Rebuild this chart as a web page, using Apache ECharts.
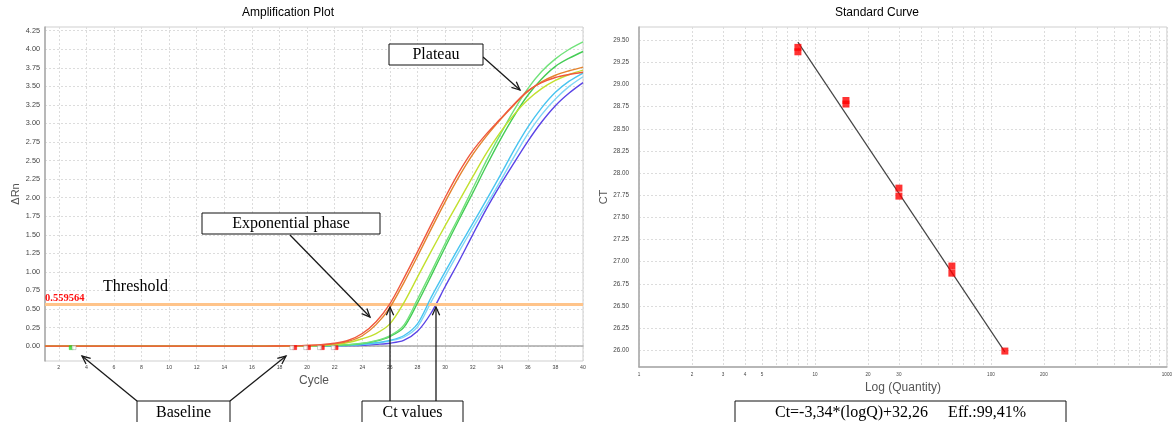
<!DOCTYPE html>
<html><head><meta charset="utf-8">
<script src="https://cdn.jsdelivr.net/npm/echarts@6/dist/echarts.min.js"></script>
<style>html,body{margin:0;padding:0;background:#fff}#c{width:1175px;height:422px}</style>
</head><body><div id="c"></div>
<script>
// ---------- Amplification plot data ----------
const cycles = [1,2,3,4,5,6,7,8,9,10,11,12,13,14,15,16,17,18,19,20,21,22,23,24,25,26,27,28,29,30,31,32,33,34,35,36,37,38,39,40];
const curveRed    = [0,0,0,0,0,0,0,0,0,0,0,0,0,0,0,0,0,0.002,0.005,0.01,0.02,0.04,0.08,0.17,0.33,0.57,0.91,1.27,1.64,2.00,2.34,2.63,2.86,3.06,3.26,3.44,3.55,3.62,3.66,3.69];
const curveOrange = [0,0,0,0,0,0,0,0,0,0,0,0,0,0,0,0,0,0.002,0.004,0.008,0.016,0.032,0.065,0.14,0.29,0.52,0.85,1.21,1.58,1.94,2.28,2.58,2.83,3.05,3.25,3.43,3.56,3.65,3.71,3.76];
const curveYellow = [0,0,0,0,0,0,0,0,0,0,0,0,0,0,0,0,0,0,0.002,0.005,0.01,0.02,0.05,0.10,0.17,0.30,0.58,0.93,1.28,1.62,1.95,2.28,2.60,2.88,3.12,3.32,3.47,3.58,3.66,3.72];
const curveGreen1 = [0,0,0,0,0,0,0,0,0,0,0,0,0,0,0,0,0,0,0.001,0.003,0.006,0.012,0.02,0.04,0.075,0.14,0.28,0.63,1.00,1.38,1.74,2.12,2.50,2.85,3.18,3.47,3.70,3.87,4.00,4.10];
const curveGreen2 = [0,0,0,0,0,0,0,0,0,0,0,0,0,0,0,0,0,0,0.001,0.003,0.005,0.01,0.018,0.036,0.068,0.13,0.25,0.58,0.95,1.33,1.70,2.06,2.43,2.78,3.10,3.38,3.60,3.77,3.88,3.97];
const curveCyan1  = [0,0,0,0,0,0,0,0,0,0,0,0,0,0,0,0,0,0,0,0.001,0.003,0.006,0.012,0.025,0.045,0.077,0.14,0.30,0.66,1.00,1.33,1.65,1.97,2.30,2.64,2.95,3.21,3.42,3.57,3.68];
const curveCyan2  = [0,0,0,0,0,0,0,0,0,0,0,0,0,0,0,0,0,0,0,0.001,0.002,0.005,0.01,0.02,0.04,0.07,0.12,0.26,0.60,0.94,1.27,1.59,1.90,2.22,2.55,2.86,3.12,3.33,3.50,3.63];
const curveViolet = [0,0,0,0,0,0,0,0,0,0,0,0,0,0,0,0,0,0,0,0.001,0.002,0.004,0.007,0.012,0.025,0.04,0.077,0.20,0.45,0.80,1.14,1.50,1.85,2.17,2.47,2.76,3.02,3.24,3.41,3.55];
const thresholdValue = 0.559564;
const baselineStartCycle = [2.9];
const baselineStartEdge = [3.1];
const baselineEndCycle = [19.1, 20.1, 21.1, 22.1];
const baselineEndEdge = [18.9, 19.9, 20.9, 21.9];
const baselineMarkY = -0.02;
const ampXTicks = [2,4,6,8,10,12,14,16,18,20,22,24,26,28,30,32,34,36,38,40];
const ampYTicks = [0,0.25,0.5,0.75,1,1.25,1.5,1.75,2,2.25,2.5,2.75,3,3.25,3.5,3.75,4,4.25];

// ---------- Standard curve data ----------
const stdQuantity = [8, 8, 15, 15, 30, 30, 60, 60, 120];
const stdCt = [29.42, 29.37, 28.82, 28.78, 27.83, 27.74, 26.95, 26.87, 25.99];
const fitQuantity = [8, 120];
const fitCt = [29.48, 25.98];
const stdXLabels = [1,2,3,4,5,10,20,30,100,200,1000];
const stdXGrid = [1,2,3,4,5,6,7,8,9,10,20,30,40,50,60,70,80,90,100,200,300,400,500,600,700,800,900,1000];
const stdYTicks = [26,26.25,26.5,26.75,27,27.25,27.5,27.75,28,28.25,28.5,28.75,29,29.25,29.5];

const lg = v => Math.log10(v);
const pairs = (xs, ys) => xs.map((x, i) => [x, ys[i]]);

const chart = echarts.init(document.getElementById('c'), null, {renderer: 'canvas'});

const curves = [
  {d: curveViolet, c: '#5a44e6'},
  {d: curveCyan2, c: '#7fd6f6'},
  {d: curveCyan1, c: '#48c4f0'},
  {d: curveGreen2, c: '#44cc55'},
  {d: curveGreen1, c: '#70e27a'},
  {d: curveYellow, c: '#c2e02e'},
  {d: curveOrange, c: '#e4832e'},
  {d: curveRed, c: '#f0583e'}
];

const serif = 'Liberation Serif';
const sans = 'Liberation Sans';

const series = curves.map((cv, i) => ({
  type: 'line', xAxisIndex: 0, yAxisIndex: 0,
  data: pairs(cycles, cv.d), showSymbol: false, smooth: 0.3,
  lineStyle: {color: cv.c, width: 1.4}, itemStyle: {color: cv.c},
  silent: true, animation: false, z: 3 + i
}));

series.push({
  type: 'line', xAxisIndex: 0, yAxisIndex: 0, data: [], silent: true, animation: false, z: 2,
  markLine: {
    silent: true, symbol: 'none', animation: false,
    data: [{yAxis: thresholdValue}],
    lineStyle: {color: '#ffc48a', width: 3, type: 'solid'},
    label: {show: true, position: 'insideStartTop', formatter: String(thresholdValue),
      color: '#ff1010', fontFamily: serif, fontSize: 10.5, fontWeight: 'bold', distance: [0, 1]}
  }
});

const rectSym = (name, xs, color, border) => ({
  type: 'scatter', name, xAxisIndex: 0, yAxisIndex: 0, symbol: 'rect', symbolSize: 4,
  data: xs.map(x => [x, baselineMarkY]),
  itemStyle: {color, borderColor: border, borderWidth: 0.6}, silent: true, animation: false, z: 20
});
series.push(rectSym('bs', baselineStartCycle, '#22dd22', '#22dd22'));
series.push(rectSym('bsw', baselineStartEdge, '#ffffff', '#999999'));
series.push(rectSym('be', baselineEndCycle, '#ff0000', '#ff0000'));
series.push(rectSym('bew', baselineEndEdge, '#ffffff', '#999999'));

series.push({
  type: 'line', xAxisIndex: 1, yAxisIndex: 1, showSymbol: false, silent: true, animation: false,
  data: fitQuantity.map((q, i) => [lg(q), fitCt[i]]),
  lineStyle: {color: '#444', width: 1.2}, z: 3
});
series.push({
  type: 'scatter', xAxisIndex: 1, yAxisIndex: 1, symbol: 'rect', symbolSize: 7, silent: true, animation: false,
  data: stdQuantity.map((q, i) => [lg(q), stdCt[i]]),
  itemStyle: {color: '#ff0000'}, z: 5
});

const gridLine = {show: true, lineStyle: {color: '#dcdcdc', type: [2, 2], width: 1}};
const axisLineStyle = {show: true, lineStyle: {color: '#a8a8a8', width: 1.5}};

function arrow(x1, y1, x2, y2) {
  const a = Math.atan2(y2 - y1, x2 - x1), L = 9, h = 0.42;
  return [
    {type: 'line', shape: {x1, y1, x2, y2}, style: {stroke: '#1a1a1a', lineWidth: 1.3}, z: 50},
    {type: 'polyline', shape: {points: [
      [x2 - L * Math.cos(a - h), y2 - L * Math.sin(a - h)], [x2, y2],
      [x2 - L * Math.cos(a + h), y2 - L * Math.sin(a + h)]]},
      style: {stroke: '#1a1a1a', lineWidth: 1.3, fill: null}, z: 50}
  ];
}
function box(text, x, y, w, h, ty) {
  return [
    {type: 'rect', shape: {x, y, width: w, height: h}, style: {fill: '#fff', stroke: '#111', lineWidth: 1}, z: 60},
    {type: 'text', x: x + w / 2, y: ty, style: {text, font: '16px "Liberation Serif"', fill: '#000',
      align: 'center', verticalAlign: 'middle', textAlign: 'center', textVerticalAlign: 'middle'}, z: 61}
  ];
}
function label(text, x, y, font, color, rot) {
  return {type: 'text', x, y, rotation: rot || 0, style: {text, font, fill: color,
    align: 'center', verticalAlign: 'middle', textAlign: 'center', textVerticalAlign: 'middle'}, z: 61};
}

const graphic = [].concat(
  label('Amplification Plot', 288, 13, '12px "Liberation Sans"', '#000'),
  label('Standard Curve', 877, 13, '12px "Liberation Sans"', '#000'),
  label('Threshold', 135.5, 287, '16px "Liberation Serif"', '#000'),
  arrow(483, 57, 520, 90),
  arrow(290, 235, 370, 317),
  arrow(137, 401, 82, 356),
  arrow(230, 401, 286, 356),
  arrow(390, 401, 390, 307),
  arrow(436, 401, 436, 307),
  box('Plateau', 389, 44, 94, 21, 54.5),
  box('Exponential phase', 202, 213, 178, 21, 223.5),
  box('Baseline', 137, 401, 93, 26, 412.5),
  box('Ct values', 362, 401, 101, 26, 412.5),
  box('Ct=-3,34*(logQ)+32,26     Eff.:99,41%', 735, 401, 331, 26, 412.5)
);

chart.setOption({
  animation: false,
  backgroundColor: '#fff',
  grid: [
    {left: 45, top: 27, width: 538, height: 334, show: true, borderColor: '#cfcfcf', borderWidth: 1, backgroundColor: '#fff'},
    {left: 639, top: 27, width: 532, height: 340, show: true, borderColor: '#cfcfcf', borderWidth: 1, backgroundColor: '#fff'}
  ],
  xAxis: [
    {type: 'value', gridIndex: 0, min: 1, max: 40,
      name: 'Cycle', nameLocation: 'middle', nameGap: 13,
      nameTextStyle: {fontFamily: sans, fontSize: 12, color: '#555'},
      axisLine: axisLineStyle,
      axisTick: {show: false, customValues: ampXTicks},
      axisLabel: {customValues: ampXTicks, fontFamily: sans, fontSize: 5.2, color: '#444', margin: 4},
      splitLine: gridLine},
    {type: 'value', gridIndex: 1, min: 0, max: 3,
      name: 'Log (Quantity)', nameLocation: 'middle', nameGap: 15,
      nameTextStyle: {fontFamily: sans, fontSize: 12, color: '#555'},
      axisLine: axisLineStyle,
      axisTick: {show: false, customValues: stdXGrid.map(lg)},
      axisLabel: {customValues: stdXLabels.map(lg), fontFamily: sans, fontSize: 4.6, color: '#444', margin: 5,
        formatter: v => String(Math.round(Math.pow(10, v)))},
      splitLine: gridLine}
  ],
  yAxis: [
    {type: 'value', gridIndex: 0, min: -0.2, max: 4.3,
      name: 'ΔRn', nameLocation: 'middle', nameGap: 23,
      nameTextStyle: {fontFamily: sans, fontSize: 11, color: '#555'},
      axisLine: axisLineStyle,
      axisTick: {show: false, customValues: ampYTicks},
      axisLabel: {customValues: ampYTicks, fontFamily: sans, fontSize: 7.3, color: '#444', margin: 5,
        formatter: v => v.toFixed(2)},
      splitLine: gridLine},
    {type: 'value', gridIndex: 1, min: 25.81, max: 29.65,
      name: 'CT', nameLocation: 'middle', nameGap: 30,
      nameTextStyle: {fontFamily: sans, fontSize: 11, color: '#555'},
      axisLine: axisLineStyle,
      axisTick: {show: false, customValues: stdYTicks},
      axisLabel: {customValues: stdYTicks, fontFamily: sans, fontSize: 6.3, color: '#444', margin: 10,
        formatter: v => v.toFixed(2)},
      splitLine: gridLine}
  ],
  series,
  graphic
});
</script></body></html>
